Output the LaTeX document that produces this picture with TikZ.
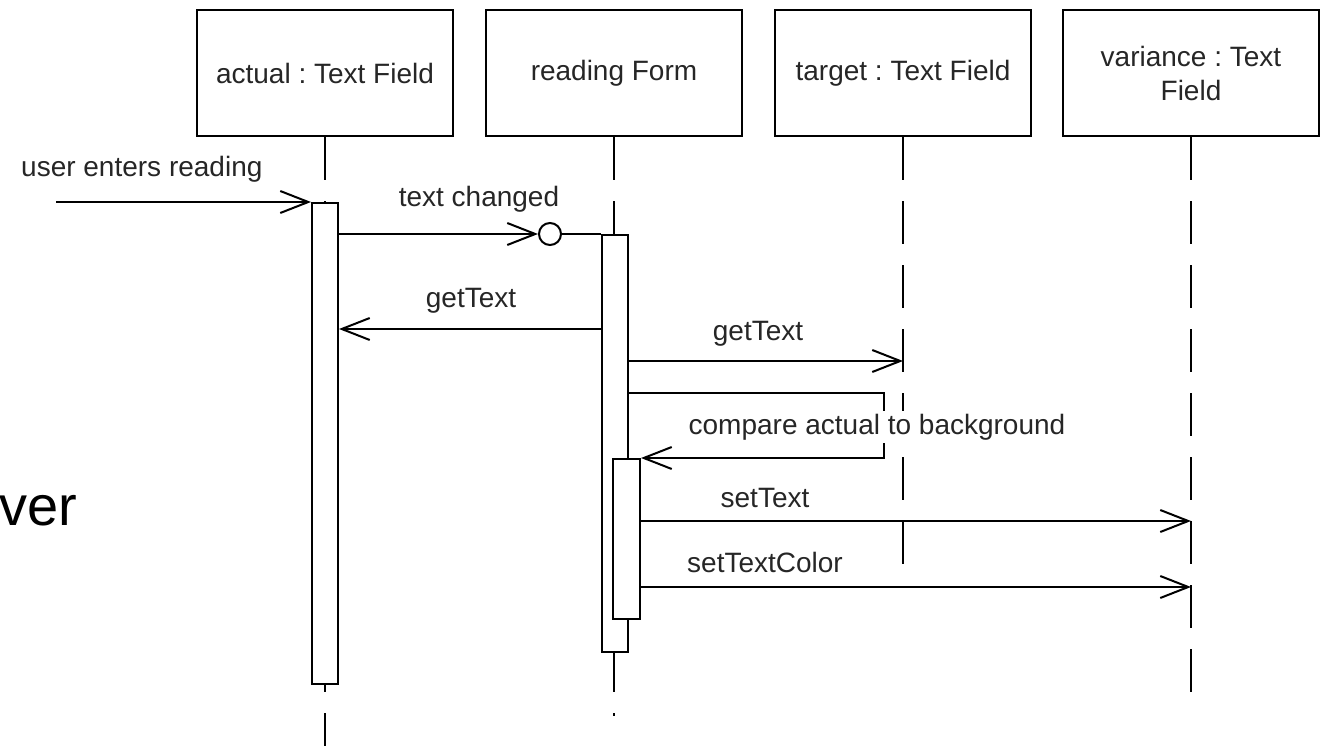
\documentclass[tikz,border=0pt]{standalone}
\usepackage{fontspec}
\setmainfont{Liberation Sans}
\usetikzlibrary{arrows.meta}
\frenchspacing
\begin{document}
\begin{tikzpicture}[x=1pt,y=-1pt,
  txt/.style={font=\fontsize{28pt}{34pt}\selectfont, text=black!85, inner sep=0pt},
  obj/.style={draw, line width=2.4pt, minimum width=256pt, minimum height=126pt, txt, align=center},
  lifeline/.style={line width=2pt, dash pattern=on 43pt off 21pt},
  act/.style={draw, fill=white, line width=2pt, minimum width=26pt, inner sep=0pt, anchor=north},
  msg/.style={line width=2pt, -{Straight Barb[length=28pt,width=22pt]}},
  plain/.style={line width=2pt}]
\useasboundingbox (0,0) rectangle (1326,746);

% objects
\node[obj] (b1) at (325,73) {actual : Text Field};
\node[obj] (b2) at (614,73) {reading Form};
\node[obj] (b3) at (903,73) {target : Text Field};
\node[obj] (b4) at (1191,73) {variance : Text\\[0pt]Field};

% lifelines
\coordinate (e1) at (325,746);
\coordinate (e2) at (614,716);
\coordinate (e3) at (903,564);
\coordinate (e4) at (1191,692);
\draw[lifeline] (b1.south) -- (e1);
\draw[lifeline] (b2.south) -- (e2);
\draw[lifeline] (b3.south) -- (e3);
\draw[lifeline] (b4.south) -- (e4);

% activations
\node[act, minimum height=481pt] (a1) at (325,202) {};
\node[act, minimum height=417pt] (a2) at (614.5,234) {};
\node[act, minimum width=27pt, minimum height=160pt] (a3) at (626.5,458) {};

% rows
\coordinate (r234) at (0,234);
\coordinate (r329) at (0,329);
\coordinate (r361) at (0,361);
\coordinate (r393) at (0,393);
\coordinate (r521) at (0,521);
\coordinate (r587) at (0,587);
\coordinate (sc) at (884,0);

% user enters reading
\coordinate (u) at (56,202);
\draw[msg] (u) -- (a1.north west);
\node[txt, anchor=base west] (lu) at (21,177) {user enters reading};

% text changed
\node[draw, circle, line width=2pt, minimum size=22pt, inner sep=0pt] (c) at (550,234) {};
\draw[msg] (a1.east |- r234) -- (c.west);
\draw[plain] (c.east) -- (a2.north west);
\node[txt, anchor=base] (lt) at (479,207) {text changed};

% getText 1
\draw[msg] (a2.west |- r329) -- (a1.east |- r329);
\node[txt, anchor=base] (lg1) at (471,308) {getText};

% getText 2
\draw[msg] (a2.east |- r361) -- (b3.south |- r361);
\node[txt, anchor=base] (lg2) at (758,340) {getText};

% self call
\draw[msg] (a2.east |- r393) -- (sc |- r393) -- (sc |- a3.north) -- (a3.north east);
\node[txt, anchor=base, fill=white, inner sep=3pt] (lc) at (877,434) {compare actual to background};

% setText
\draw[msg] (a3.east |- r521) -- (b4.south |- r521);
\node[txt, anchor=base] (ls) at (765,507) {setText};

% setTextColor
\draw[msg] (a3.east |- r587) -- (b4.south |- r587);
\node[txt, anchor=base] (lsc) at (765,572) {setTextColor};

% partial word at left
\node[font=\fontsize{56pt}{64pt}\selectfont, inner sep=0pt, anchor=base west] (ver) at (-1,525) {ver};
\end{tikzpicture}
\end{document}
